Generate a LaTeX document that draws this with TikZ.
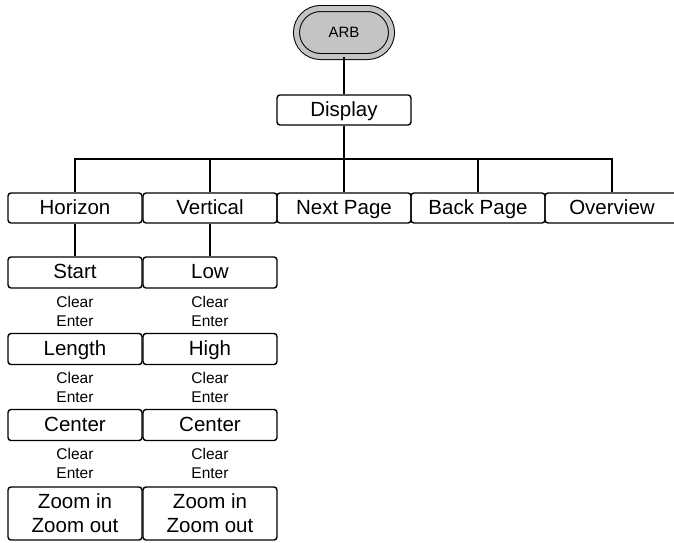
\documentclass[tikz,border=0pt]{standalone}
\usepackage{fontspec}
\setmainfont{Liberation Sans}
\definecolor{arbgray}{RGB}{196,196,196}
\tikzset{
  box/.style={draw, rounded corners=3pt, line width=1.4pt, minimum width=134pt,
    minimum height=31pt, inner sep=0pt, align=center,
    font=\fontsize{20.5}{24}\selectfont},
  key/.style={box, text height=15.5pt, text depth=3.5pt},
  sub/.style={inner sep=0pt, align=center, font=\fontsize{15.5}{19}\selectfont},
  wire/.style={line width=1.4pt},
}

\begin{document}
\begin{tikzpicture}[x=1pt, y=-1pt]
  \useasboundingbox (0,0) rectangle (674,542);
  \clip (0,0) rectangle (674,542);

  % Root key and Display
  \node[draw, line width=1pt, double=arbgray, double distance=5pt, fill=arbgray,
    rounded corners=24pt, minimum width=95pt, minimum height=48pt,
    font=\fontsize{15}{18}\selectfont] (arb) at (344,32.5) {ARB};
  \node[key, minimum height=30pt] (disp) at (344,110) {Display};
  \draw[wire] (arb) -- (disp);

  % Soft keys
  \node[key, minimum height=30pt] (hor) at (75,208) {Horizon};
  \node[key, minimum height=30pt] (ver) at (210,208) {Vertical};
  \node[key, minimum height=30pt] (next) at (344,208) {Next Page};
  \node[key, minimum height=30pt] (back) at (478,208) {Back Page};
  \node[key, minimum height=30pt] (ovw) at (612,208) {Overview};
  \coordinate (bus) at (344,159);
  \draw[wire] (disp) -- (bus);
  \foreach \k in {hor,ver,next,back,ovw}
    \draw[wire] (bus) -| (\k.north);

  % Horizon menu
  \node[key] (hstart) at (75,272.5) {Start};
  \node[sub] (hstartsub) at (75,311) {Clear\\Enter};
  \node[key] (hlen) at (75,349) {Length};
  \node[sub] (hlensub) at (75,387.5) {Clear\\Enter};
  \node[key] (hcen) at (75,425) {Center};
  \node[sub] (hcensub) at (75,463.5) {Clear\\Enter};
  \node[box, minimum height=53pt] (hzoom) at (75,513.5) {Zoom in\\Zoom out};
  \draw[wire] (hor) -- (hstart);

  % Vertical menu
  \node[key] (vlow) at (210,272.5) {Low};
  \node[sub] (vlowsub) at (210,311) {Clear\\Enter};
  \node[key] (vhigh) at (210,349) {High};
  \node[sub] (vhighsub) at (210,387.5) {Clear\\Enter};
  \node[key] (vcen) at (210,425) {Center};
  \node[sub] (vcensub) at (210,463.5) {Clear\\Enter};
  \node[box, minimum height=53pt] (vzoom) at (210,513.5) {Zoom in\\Zoom out};
  \draw[wire] (ver) -- (vlow);
\end{tikzpicture}
\end{document}
